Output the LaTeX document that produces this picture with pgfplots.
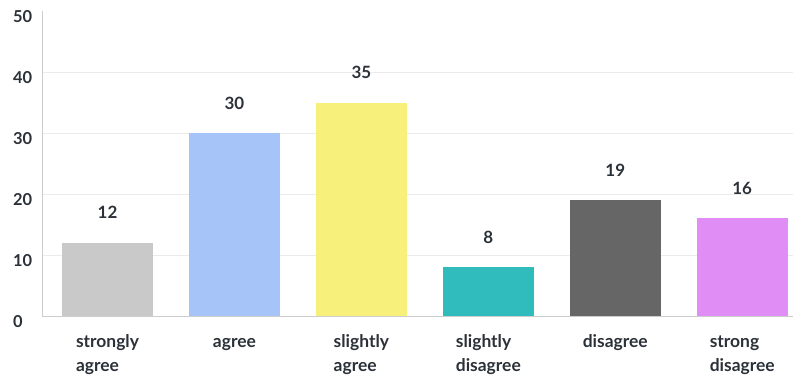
\documentclass[border=0pt]{standalone}
\usepackage{pgfplots}
\pgfplotsset{compat=1.18}
\usepackage{fontspec}
\setmainfont{Lato}
\definecolor{txt}{HTML}{2B3138}
\definecolor{gridc}{HTML}{EBEBEB}
\definecolor{axc}{HTML}{CCCCCC}
\definecolor{c1}{HTML}{C9C9C9}
\definecolor{c2}{HTML}{A6C4F8}
\definecolor{c3}{HTML}{F7F07B}
\definecolor{c4}{HTML}{30BCBC}
\definecolor{c5}{HTML}{666666}
\definecolor{c6}{HTML}{E08EF6}
\begin{document}
\begin{tikzpicture}
\path[use as bounding box] (-42bp,-61bp) rectangle (751bp,316bp);
\begin{axis}[
  scale only axis,
  width=751bp, height=305bp,
  xmin=-0.516, xmax=5.4,
  ymin=0, ymax=50,
  axis lines=left,
  axis line style={axc, line width=1pt, -},
  ytick={0,10,20,30,40},
  extra y ticks={50},
  extra y tick style={grid=none},
  grid=major, xmajorgrids=false,
  major grid style={gridc, line width=0.8pt},
  major tick length=0pt,
  xtick={0,1,2,3,4,5},
  xticklabels={{\strut strongly\\agree},{\strut agree\\\strut},{\strut slightly\\agree},{\strut slightly\\disagree},{\strut disagree\\\strut},{\strut strong\\disagree}},
  xticklabel style={align=left, anchor=north, inner sep=0pt, yshift=-15bp, font=\fontsize{17.5}{24}\selectfont\bfseries, text=txt},
  yticklabel style={anchor=west, inner sep=0pt, xshift=-29bp, yshift=-6bp, font=\fontsize{16.5}{20}\selectfont\bfseries, text=txt},
  /pgf/number format/assume math mode=true,
  ybar, bar width=91bp,
  nodes near coords,
  nodes near coords style={anchor=center, yshift=30bp, inner sep=0pt, font=\fontsize{17}{20}\selectfont\bfseries, text=txt},
  every axis plot/.append style={bar shift=0pt, draw=none},
]
\addplot[fill=c1] coordinates {(0,12)};
\addplot[fill=c2] coordinates {(1,30)};
\addplot[fill=c3] coordinates {(2,35)};
\addplot[fill=c4] coordinates {(3,8)};
\addplot[fill=c5] coordinates {(4,19)};
\addplot[fill=c6] coordinates {(5,16)};
\end{axis}
\end{tikzpicture}
\end{document}
